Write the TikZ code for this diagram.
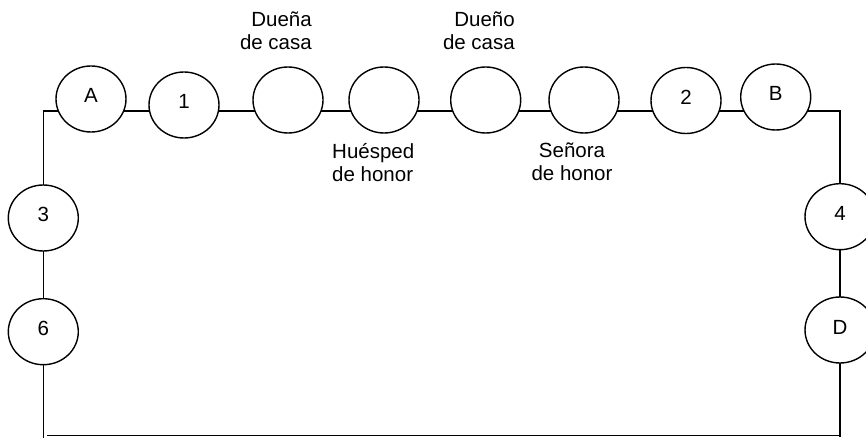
\documentclass[tikz,border=0pt]{standalone}
\usepackage{fontspec}
\setmainfont{Liberation Sans}
\usetikzlibrary{shapes.geometric}
\begin{document}
\begin{tikzpicture}[x=1pt,y=-1pt,
  seat/.style={ellipse,draw=black,line width=1.4pt,fill=white,minimum width=70pt,minimum height=66pt,inner sep=0pt,
    font=\fontsize{20.5}{23.5}\selectfont,text height=14.5pt,text depth=6.5pt},
  lbl/.style={inner sep=0pt,font=\fontsize{20.5}{23.5}\selectfont},
  wire/.style={line width=1.4pt,draw=black}]
\useasboundingbox (0,0) rectangle (866,438);
% corners of the table outline
\coordinate (tl) at (43.3,111);
\coordinate (tr) at (840,111);
\coordinate (br) at (840,436.5);
\coordinate (bs) at (47,435.5);
\coordinate (bb) at (840,435.5);
\coordinate (lb) at (43.3,438);
\draw[wire] (lb) -- (tl) -- (tr) -- (br);
\draw[wire] (bs) -- (bb);
% seats
\node[seat] (sA) at (91,99) {A};
\node[seat] (s1) at (184,105) {1};
\node[seat] (sDa) at (288,100) {};
\node[seat] (sHu) at (384,100) {};
\node[seat] (sDo) at (485.7,100) {};
\node[seat] (sSe) at (584,100) {};
\node[seat] (s2) at (686,100.5) {2};
\node[seat] (sB) at (775.7,97) {B};
\node[seat] (s3) at (43.3,218) {3};
\node[seat] (s6) at (43.3,331.7) {6};
\node[seat] (s4) at (840,216.7) {4};
\node[seat] (sD) at (840,330) {D};
% labels
\node[lbl,anchor=north east,align=right] (tDa) at (312,11.5) {Dueña\\de casa};
\node[lbl,anchor=north east,align=right] (tDo) at (515,11.5) {Dueño\\de casa};
\node[lbl,anchor=north west,align=left] (tHu) at (332,143) {Huésped\\de honor};
\node[lbl,anchor=north,align=center] (tSe) at (572,142.5) {Señora\\de honor};
\end{tikzpicture}
\end{document}
